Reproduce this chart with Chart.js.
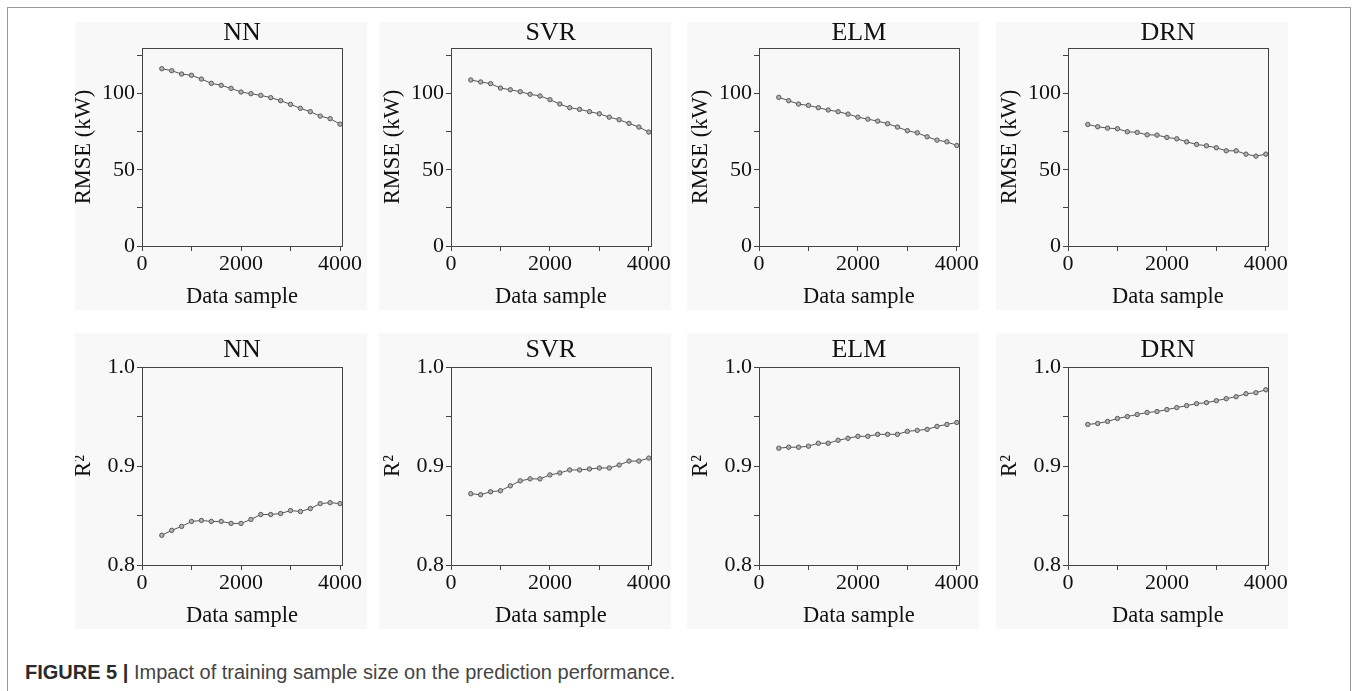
<html>
<head>
    <style>
        body { margin: 0; background: #ffffff; width: 1354px; height: 691px; overflow: hidden; position: relative; }
        .frame { position: absolute; left: 7px; top: 7px; width: 1342px; height: 720px; border: 1px solid #9a9a9a; }
        .panel { position: absolute; background: #f8f8f8; }
        .caption { position: absolute; left: 25px; top: 661px; font-family: "Liberation Sans", Arial, sans-serif; font-size: 20px; color: #444; }
        .caption b { color: #2a2a2a; }
    </style>
</head>
<body>
<div class="frame"></div>
<div id="panels"></div>
<div class="caption"><b>FIGURE 5 |</b> Impact of training sample size on the prediction performance.</div>

<script src="https://cdn.jsdelivr.net/npm/chart.js"></script>
<script type="text/javascript">
    // training sample sizes (x)
    const sampleSizes = [400, 600, 800, 1000, 1200, 1400, 1600, 1800, 2000, 2200, 2400, 2600, 2800, 3000, 3200, 3400, 3600, 3800, 4000];
    const models = ['NN', 'SVR', 'ELM', 'DRN'];

    // RMSE (kW)
    const rmseNN = [116.4, 115.1, 112.9, 112.1, 109.6, 106.8, 105.5, 103.5, 101.1, 100.0, 98.9, 97.4, 95.4, 93.0, 90.4, 88.2, 85.3, 83.6, 80.0];
    const rmseSVR = [109.0, 107.7, 106.6, 103.7, 102.6, 101.3, 99.6, 98.5, 96.1, 93.2, 90.8, 89.7, 88.2, 86.8, 84.6, 82.9, 80.5, 78.1, 74.8];
    const rmseELM = [97.6, 95.4, 93.2, 92.3, 90.8, 89.3, 88.2, 86.6, 84.6, 83.3, 82.0, 80.3, 78.1, 75.7, 74.3, 71.7, 69.5, 68.4, 66.0];
    const rmseDRN = [79.8, 78.3, 77.4, 77.0, 75.0, 74.6, 73.0, 72.8, 71.3, 70.4, 68.4, 66.7, 65.8, 64.5, 62.5, 62.5, 60.3, 59.0, 60.3];

    // R^2
    const r2NN = [0.830, 0.835, 0.839, 0.844, 0.845, 0.844, 0.844, 0.842, 0.842, 0.846, 0.851, 0.851, 0.852, 0.855, 0.854, 0.857, 0.862, 0.863, 0.862];
    const r2SVR = [0.872, 0.871, 0.874, 0.875, 0.880, 0.885, 0.887, 0.887, 0.891, 0.893, 0.896, 0.896, 0.897, 0.898, 0.898, 0.901, 0.905, 0.905, 0.908];
    const r2ELM = [0.918, 0.919, 0.919, 0.920, 0.923, 0.923, 0.926, 0.928, 0.930, 0.930, 0.932, 0.932, 0.932, 0.935, 0.936, 0.937, 0.940, 0.942, 0.944];
    const r2DRN = [0.942, 0.943, 0.945, 0.948, 0.950, 0.952, 0.954, 0.955, 0.957, 0.959, 0.961, 0.963, 0.964, 0.966, 0.968, 0.970, 0.973, 0.974, 0.977];

    const rmseTicks = [0, 50, 100];
    const r2Ticks = ['0.8', '0.9', '1.0'];
    const xTicks = [0, 2000, 4000];

    const SERIF = '"Liberation Serif", "Times New Roman", serif';

    // panel geometry
    const panelLefts = [75, 379, 687, 996];
    const plotLefts = [142, 451, 759, 1068];
    const PANEL_W = 292, PLOT_W = 200;
    const rows = [
        { top: 22, height: 288, plotTop: 48, plotBottom: 246, titleGap: 15, yTitle: 'RMSE (kW)', series: [rmseNN, rmseSVR, rmseELM, rmseDRN], min: 0, max: 130, step: 25 },
        { top: 333, height: 296, plotTop: 367, plotBottom: 565, titleGap: 17, yTitle: 'R\u00B2', series: [r2NN, r2SVR, r2ELM, r2DRN], min: 0.8, max: 1.0, step: 0.05 }
    ];

    const decorPlugin = {
        id: 'decor',
        afterDraw(chart, args, opts) {
            const ctx = chart.ctx;
            const a = chart.chartArea;
            ctx.save();
            ctx.strokeStyle = '#444';
            ctx.lineWidth = 1;
            ctx.strokeRect(Math.round(a.left) + 0.5, Math.round(a.top) + 0.5, Math.round(a.right - a.left), Math.round(a.bottom - a.top));
            ctx.fillStyle = '#111';
            ctx.textAlign = 'center';
            ctx.textBaseline = 'middle';
            ctx.font = '26px ' + SERIF;
            ctx.fillText(opts.title, (a.left + a.right) / 2, a.top - opts.titleGap);
            ctx.font = '22.5px ' + SERIF;
            ctx.fillText('Data sample', (a.left + a.right) / 2, a.bottom + 51);
            ctx.translate(a.left - 58, (a.top + a.bottom) / 2);
            ctx.rotate(-Math.PI / 2);
            ctx.fillText(opts.yTitle, 0, 0);
            ctx.restore();
        }
    };

    function makePanel(row, col) {
        const panel = document.createElement('div');
        panel.className = 'panel';
        panel.style.left = panelLefts[col] + 'px';
        panel.style.top = row.top + 'px';
        panel.style.width = PANEL_W + 'px';
        panel.style.height = row.height + 'px';
        const canvas = document.createElement('canvas');
        canvas.width = PANEL_W;
        canvas.height = row.height;
        panel.appendChild(canvas);
        document.getElementById('panels').appendChild(panel);

        const yWidth = plotLefts[col] - panelLefts[col];
        const padTop = row.plotTop - row.top;
        const xHeight = row.top + row.height - row.plotBottom;
        const isR2 = row.min > 0;

        new Chart(canvas, {
            type: 'line',
            data: {
                datasets: [{
                    data: sampleSizes.map((x, i) => ({ x: x, y: row.series[col][i] })),
                    borderColor: '#555',
                    borderWidth: 1,
                    pointRadius: 2.2,
                    pointBackgroundColor: '#b0b0b0',
                    pointBorderColor: '#5a5a5a',
                    pointBorderWidth: 1,
                    tension: 0,
                    clip: false
                }]
            },
            options: {
                responsive: false,
                animation: false,
                devicePixelRatio: 1,
                layout: { padding: { top: padTop, right: PANEL_W - yWidth - PLOT_W, left: 0, bottom: 0 } },
                plugins: {
                    legend: { display: false },
                    tooltip: { enabled: false },
                    decor: { title: models[col], yTitle: row.yTitle, titleGap: row.titleGap }
                },
                scales: {
                    x: {
                        type: 'linear', min: 0, max: 4040,
                        afterFit: (s) => { s.height = xHeight; },
                        afterBuildTicks: (s) => { s.ticks = [0, 1000, 2000, 3000, 4000].map(v => ({ value: v })); },
                        border: { display: true, color: '#444' },
                        grid: { drawOnChartArea: false, tickLength: 5, color: '#444' },
                        ticks: {
                            padding: 0, color: '#111', maxRotation: 0, autoSkip: false,
                            font: { family: SERIF, size: 22 },
                            callback: (v) => xTicks.includes(v) ? String(v) : ''
                        }
                    },
                    y: {
                        min: row.min, max: row.max,
                        afterFit: (s) => { s.width = yWidth; },
                        afterBuildTicks: (s) => {
                            const t = [];
                            for (let k = 0; row.min + k * row.step <= row.max + 1e-9; k++) t.push({ value: +(row.min + k * row.step).toFixed(2) });
                            s.ticks = t;
                        },
                        border: { display: true, color: '#444' },
                        grid: { drawOnChartArea: false, tickLength: 5, color: '#444' },
                        ticks: {
                            padding: 2, color: '#111', autoSkip: false,
                            font: { family: SERIF, size: 22 },
                            callback: (v) => {
                                if (isR2) {
                                    const s = v.toFixed(1);
                                    return (r2Ticks.includes(s) && Math.abs(v - parseFloat(s)) < 1e-6) ? s : '';
                                }
                                return rmseTicks.includes(v) ? String(v) : '';
                            }
                        }
                    }
                }
            },
            plugins: [decorPlugin]
        });
    }

    rows.forEach(row => models.forEach((m, col) => makePanel(row, col)));
</script>
</body>
</html>
